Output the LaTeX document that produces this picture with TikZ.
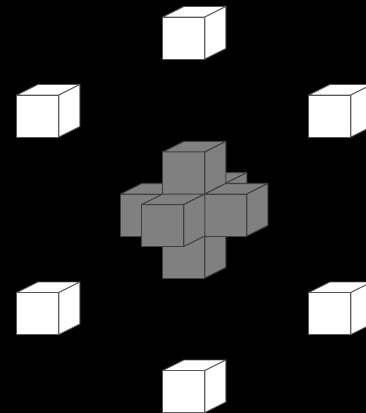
\documentclass[tikz,border=0pt]{standalone}
\usepackage{tikz}

\tikzset{
	whitecube/.style={fill=white, draw=gray!70!black, line width=0.7pt},
	graycube/.style={fill=gray, draw=black!75, line width=0.75pt}
}

% Khối lập phương: góc trên trái mặt trước (#2, #3)
\newcommand{\cubeat}[3]{
	\draw[#1] (#2, #3) rectangle ++(42, 42);
	\draw[#1] (#2, #3) -- ++(21, -10.5) -- ++(42, 0) -- ++(-21, 10.5) -- cycle;
	\draw[#1] (#2+42, #3) -- ++(21, -10.5) -- ++(0, 42) -- ++(-21, 10.5) -- cycle;
}

\begin{document}
\begin{tikzpicture}[line join=round, line cap=round, x=0.75pt, y=-0.75pt]
	% Nền
	\fill[black] (0, 0) rectangle (366, 413);
	\clip (0, 0) rectangle (366, 413);

	% Các khối trắng xung quanh
	\foreach \x/\y in {162.8/17, 16.8/95, 308.8/95, 16.8/292.5, 308.8/292.5, 162.8/370.5} {
		\cubeat{whitecube}{\x}{\y}
	}

	% Các khối xám ở giữa
	\foreach \x/\y in {183.8/183.2, 162.8/236, 120.8/194, 162.8/194, 162.8/152, 204.8/194, 141.8/204.5} {
		\cubeat{graycube}{\x}{\y}
	}
\end{tikzpicture}
\end{document}
